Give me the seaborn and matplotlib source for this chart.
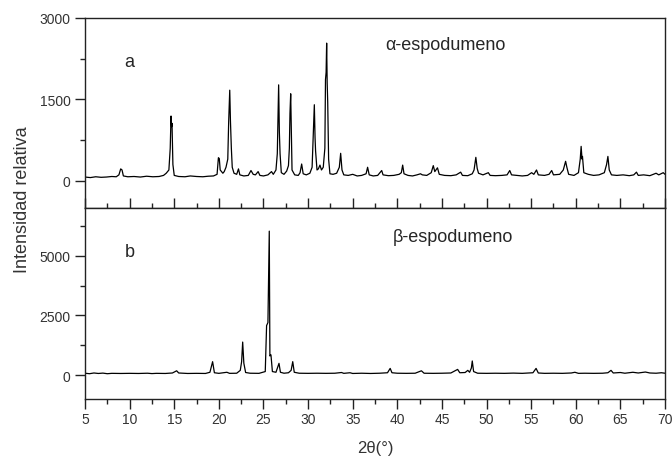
import numpy as np
import pandas as pd
import seaborn as sns
import matplotlib.pyplot as plt
from matplotlib.ticker import MultipleLocator

# XRD pattern a (alpha-espodumeno)
tth_a = [5.0, 5.6, 6.2, 6.8, 7.4, 8.0, 8.5, 8.8, 9.0, 9.15, 9.3, 9.8, 10.5, 11.2, 11.9, 12.6,
         13.3, 13.8, 14.1, 14.4, 14.55, 14.64, 14.7, 14.75, 14.85, 15.0, 15.5, 16.2, 16.8, 17.5,
         18.2, 18.8, 19.4, 19.8, 19.95, 20.05, 20.15, 20.3, 20.45, 20.6, 20.8, 21.0, 21.1, 21.22,
         21.3, 21.4, 21.5, 21.7, 22.0, 22.2, 22.35, 22.8, 23.3, 23.6, 23.85, 24.1, 24.4, 24.6,
         25.0, 25.5, 25.9, 26.1, 26.4, 26.55, 26.62, 26.7, 26.78, 26.86, 27.0, 27.3, 27.6, 27.8,
         27.9, 27.97, 28.05, 28.12, 28.2, 28.5, 28.9, 29.1, 29.28, 29.45, 29.8, 30.2, 30.45, 30.6,
         30.7, 30.78, 30.84, 31.0, 31.15, 31.33, 31.5, 31.7, 31.88, 31.95, 32.02, 32.08, 32.14,
         32.2, 32.3, 32.45, 32.8, 33.2, 33.5, 33.65, 33.8, 34.0, 34.5, 35.0, 35.5, 36.0, 36.5,
         36.67, 36.85, 37.3, 37.8, 38.25, 38.4, 39.0, 39.6, 40.2, 40.45, 40.6, 40.75, 41.2, 41.7,
         42.2, 42.6, 42.8, 43.3, 43.8, 44.03, 44.2, 44.5, 44.7, 45.3, 46.0, 46.6, 47.1, 47.3,
         47.9, 48.4, 48.6, 48.8, 48.95, 49.1, 49.6, 50.2, 50.4, 51.0, 51.7, 52.3, 52.6, 52.8,
         53.4, 54.0, 54.6, 55.05, 55.3, 55.6, 55.8, 56.5, 57.0, 57.3, 57.5, 58.2, 58.6, 58.86,
         59.0, 59.2, 59.8, 60.3, 60.5, 60.6, 60.7, 60.75, 60.9, 61.4, 62.0, 62.6, 63.2, 63.45,
         63.6, 63.75, 64.0, 64.6, 65.3, 66.0, 66.5, 66.8, 67.0, 67.6, 68.3, 69.0, 69.3, 69.8, 70.0]
int_a = [70, 60, 75, 65, 70, 80, 75, 110, 220, 200, 90, 75, 80, 70, 85, 75,
         80, 100, 140, 200, 600, 1194, 1000, 1060, 300, 100, 80, 75, 90, 80,
         75, 85, 90, 120, 426, 410, 200, 170, 140, 170, 250, 400, 1085, 1670,
         1100, 600, 250, 140, 120, 220, 110, 90, 100, 190, 120, 110, 170, 100,
         90, 110, 170, 120, 200, 500, 1060, 1768, 900, 500, 150, 120, 180, 280,
         600, 1244, 1604, 900, 200, 110, 100, 150, 310, 130, 110, 140, 250, 933,
         1402, 800, 550, 200, 220, 290, 200, 250, 600, 1866, 2000, 2537, 1800,
         1445, 400, 130, 120, 140, 250, 507, 200, 110, 100, 120, 90, 100, 130,
         250, 110, 90, 100, 190, 110, 95, 100, 120, 150, 290, 130, 100, 90,
         110, 130, 110, 100, 150, 280, 170, 240, 120, 100, 95, 110, 160, 100,
         95, 130, 200, 433, 230, 140, 110, 150, 100, 95, 100, 110, 190, 110,
         100, 90, 100, 150, 120, 200, 110, 100, 120, 190, 110, 120, 200, 360,
         250, 120, 100, 150, 400, 635, 400, 450, 150, 120, 100, 110, 150, 300,
         450, 200, 110, 100, 110, 95, 110, 160, 100, 110, 95, 140, 110, 150, 120]

# XRD pattern b (beta-espodumeno)
tth_b = [5.0, 5.5, 6.0, 6.5, 7.0, 7.5, 8.0, 9.0, 10.0, 11.0, 12.0, 12.5, 13.0, 14.0, 14.8,
         15.27, 15.5, 16.5, 17.5, 18.5, 19.0, 19.3, 19.5, 20.0, 20.9, 21.2, 22.0, 22.4, 22.55,
         22.67, 22.8, 23.0, 23.5, 24.5, 25.2, 25.35, 25.5, 25.65, 25.72, 25.84, 26.0, 26.4,
         26.74, 26.9, 27.3, 27.8, 28.1, 28.28, 28.45, 29.0, 30.0, 31.0, 32.0, 33.0, 33.75, 34.0,
         34.7, 35.0, 36.0, 37.0, 38.0, 38.9, 39.2, 39.4, 40.0, 41.0, 42.0, 42.7, 43.0, 44.0,
         45.0, 46.0, 46.76, 47.0, 47.6, 47.9, 48.1, 48.3, 48.4, 48.55, 49.0, 50.0, 51.0, 52.0,
         53.0, 54.0, 55.2, 55.55, 55.8, 56.5, 57.5, 58.5, 59.5, 59.9, 60.3, 61.0, 62.0, 63.0,
         63.6, 63.95, 64.2, 65.0, 65.5, 66.4, 67.0, 67.8, 68.3, 69.0, 69.6, 70.0]
int_b = [80, 60, 90, 70, 85, 60, 75, 70, 75, 70, 80, 65, 75, 70, 90,
         182, 90, 70, 75, 70, 120, 564, 100, 75, 120, 75, 80, 200, 560,
         1385, 500, 110, 80, 75, 150, 2076, 2200, 6030, 805, 850, 150, 120,
         494, 120, 80, 100, 200, 565, 120, 80, 75, 80, 75, 80, 110, 75,
         100, 70, 80, 70, 80, 100, 282, 100, 80, 75, 80, 182, 80, 75,
         80, 90, 240, 100, 110, 200, 120, 300, 593, 150, 80, 75, 80, 75,
         85, 75, 100, 282, 90, 75, 80, 75, 90, 120, 75, 80, 75, 80,
         100, 200, 90, 110, 80, 120, 90, 130, 90, 80, 100, 80]

panel_a = pd.DataFrame({"tth": tth_a, "intensidad": int_a})
panel_b = pd.DataFrame({"tth": tth_b, "intensidad": int_b})

sns.set_theme(style="ticks")
plt.rcParams["font.family"] = ["Liberation Sans", "DejaVu Sans"]

fig = plt.figure(figsize=(6.72, 4.6), dpi=100)
ax_a = fig.add_axes([0.1265, 0.5457, 0.8631, 0.4130])
ax_b = fig.add_axes([0.1265, 0.1304, 0.8631, 0.4153], sharex=ax_a)

for ax, df in [(ax_a, panel_a), (ax_b, panel_b)]:
    sns.lineplot(data=df, x="tth", y="intensidad", ax=ax, color="black",
                 linewidth=0.9, estimator=None, sort=False)
    ax.set_xlabel("")
    ax.set_ylabel("")
    for side in ["top", "right", "left", "bottom"]:
        ax.spines[side].set_visible(True)
        ax.spines[side].set_color("#222222")
        ax.spines[side].set_linewidth(1.0)
    ax.tick_params(axis="both", which="major", labelsize=10, labelcolor="#333333",
                   color="#222222", width=1.0, length=7)
    ax.tick_params(axis="both", which="minor", color="#222222", width=1.0, length=3.5)

ax_a.set_xlim(5, 70)
ax_a.xaxis.set_major_locator(MultipleLocator(5))
ax_a.xaxis.set_minor_locator(MultipleLocator(2.5))

ax_a.set_ylim(-500, 3000)
ax_a.set_yticks([0, 1500, 3000])
ax_a.yaxis.set_minor_locator(MultipleLocator(750))
ax_a.tick_params(axis="x", which="both", direction="in", labelbottom=False)

ax_b.set_ylim(-1000, 7000)
ax_b.set_yticks([0, 2500, 5000])
ax_b.yaxis.set_minor_locator(MultipleLocator(1250))
ax_b.tick_params(axis="x", which="both", direction="out", pad=2)

ax_a.text(10, 2200, "a", fontsize=13, ha="center", va="center")
ax_a.text(38.6, 2510, "α-espodumeno", fontsize=13, ha="left", va="center")
ax_b.text(10, 5170, "b", fontsize=13, ha="center", va="center")
ax_b.text(39.5, 5800, "β-espodumeno", fontsize=13, ha="left", va="center")

fig.text(0.033, 0.565, "Intensidad relativa", rotation=90, fontsize=13,
         color="#333333", ha="center", va="center")
fig.text(0.558, 0.024, "2θ(°)", fontsize=12, color="#333333", ha="center", va="center")

fig.savefig("out.png", dpi=100)
